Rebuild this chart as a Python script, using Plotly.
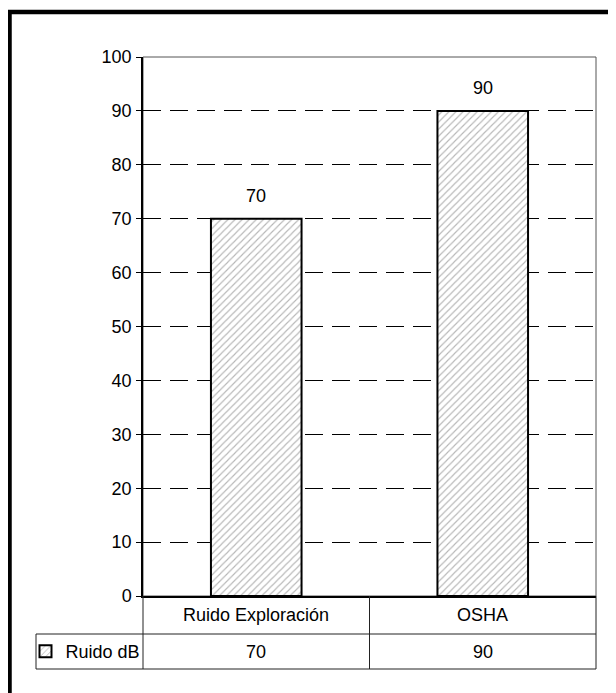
import plotly.graph_objects as go

categories = ["Ruido Exploración", "OSHA"]
values = [70, 90]
series_name = "Ruido dB"
y_ticks = [0, 10, 20, 30, 40, 50, 60, 70, 80, 90, 100]

FONT = "Arial, Liberation Sans, sans-serif"
FS = 18
OFF = 8  # page body margin offset
W, H = 616, 693
# target page coordinates of plot area
PL, PR, PT, PB = 143, 596, 57, 596
L, T = PL - OFF, PT - OFF
R = W - (PR - OFF)
B = H - (PB - OFF)
PW, PH = PR - PL, PB - PT

def px_x(px):
    return (px - PL) / PW

def px_y(py):
    return (PB - py) / PH

fig = go.Figure()
fig.add_trace(go.Bar(
    x=categories, y=values, name=series_name, width=0.4,
    marker=dict(color="white", line=dict(color="black", width=2),
                pattern=dict(shape="/", fgcolor="#6e6e6e", bgcolor="white",
                             size=5, solidity=0.22)),
    showlegend=True, hoverinfo="skip",
))
# invisible trace for inside tick marks (cross ticks)
fig.add_trace(go.Scatter(x=categories, y=values, yaxis="y2", mode="markers",
                         marker=dict(opacity=0), showlegend=False, hoverinfo="skip"))

shapes = []
# plot area border (top/right)
shapes.append(dict(type="rect", xref="paper", yref="paper", x0=0, x1=1, y0=0, y1=1,
                   line=dict(color="#555", width=1), layer="below"))
# outer frame
shapes.append(dict(type="rect", xref="paper", yref="paper",
                   x0=px_x(9.5), x1=px_x(660), y0=px_y(740), y1=px_y(12),
                   line=dict(color="black", width=4.5)))
# table lines
row1_bot, row2_bot = px_y(634), px_y(669)
line_style = dict(color="#222", width=1)
for yy in (row1_bot, row2_bot):
    shapes.append(dict(type="line", xref="paper", yref="paper", x0=px_x(36), x1=1,
                       y0=yy, y1=yy, line=line_style))
for xx in (0, 1):
    shapes.append(dict(type="line", xref="paper", yref="paper", x0=xx, x1=xx,
                       y0=0, y1=row2_bot, line=line_style))
shapes.append(dict(type="line", xref="paper", yref="paper", x0=px_x(36), x1=px_x(36),
                   y0=row1_bot, y1=row2_bot, line=line_style))
# category divider
for i in range(len(categories) - 1):
    shapes.append(dict(type="line", xref="x", yref="paper", x0=i + 0.5, x1=i + 0.5,
                       y0=0, y1=row2_bot, line=line_style))

annotations = []
for c, v in zip(categories, values):
    annotations.append(dict(x=c, y=v, xref="x", yref="y", text=str(v), showarrow=False,
                            yanchor="bottom", yshift=11, font=dict(size=FS, color="black", family=FONT)))
    annotations.append(dict(x=c, y=(0 + row1_bot) / 2, xref="x", yref="paper", text=c,
                            showarrow=False, yanchor="middle", font=dict(size=FS, color="black", family=FONT)))
    annotations.append(dict(x=c, y=(row1_bot + row2_bot) / 2, xref="x", yref="paper", text=str(v),
                            showarrow=False, yanchor="middle", font=dict(size=FS, color="black", family=FONT)))

fig.update_layout(
    width=W, height=H,
    margin=dict(l=L, r=R, t=T, b=B, autoexpand=False),
    paper_bgcolor="white", plot_bgcolor="white",
    font=dict(family=FONT, size=FS, color="black"),
    bargap=0.6,
    xaxis=dict(range=[-0.5, 1.5], showticklabels=False, ticks="", showgrid=False,
               showline=True, linecolor="black", linewidth=1.5, zeroline=False),
    yaxis=dict(range=[0, 100], tickvals=y_ticks, ticks="outside", ticklen=5, tickwidth=1,
               tickcolor="black", showline=True, linecolor="black", linewidth=1.5,
               showgrid=True, gridcolor="black", gridwidth=1, griddash="18px,9px",
               zeroline=False, tickfont=dict(size=FS, color="black"), ticklabelstandoff=1),
    yaxis2=dict(range=[0, 100], tickvals=y_ticks, overlaying="y", side="left",
                anchor="x", ticks="inside", ticklen=5, tickcolor="black",
                showticklabels=False, showgrid=False, showline=False, zeroline=False),
    legend=dict(x=px_x(25.5), y=(row1_bot + row2_bot) / 2, xanchor="left", yanchor="middle",
                bgcolor="rgba(0,0,0,0)", font=dict(size=FS, color="black"),
                itemwidth=30, tracegroupgap=0),
    shapes=shapes, annotations=annotations,
)

fig.write_html("out.html")
